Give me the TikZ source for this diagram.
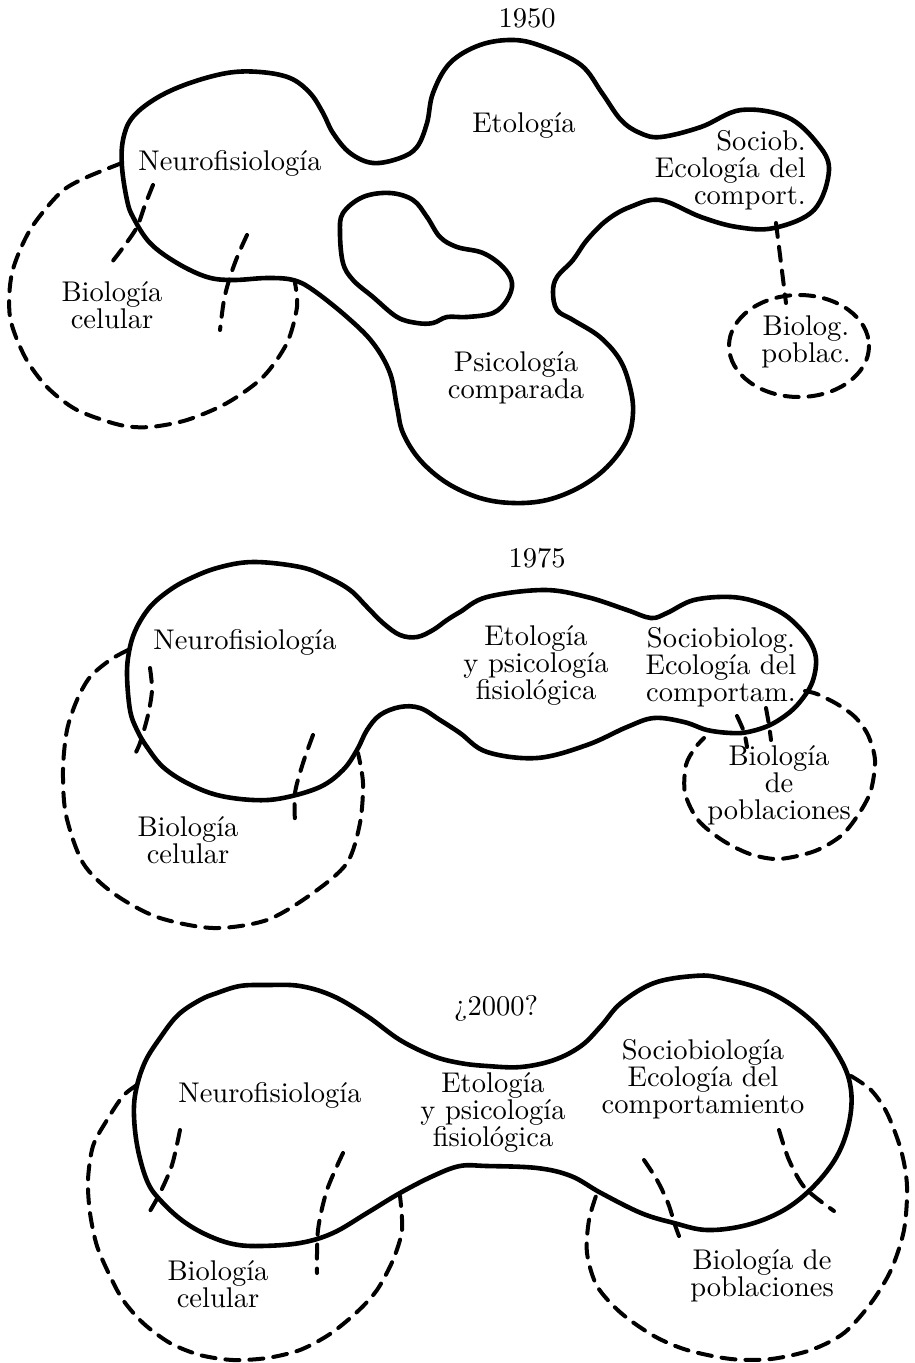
\documentclass[tikz,border=0pt]{standalone}
\usepackage{fontspec}
\setmainfont{lmroman10-regular.otf}
\begin{document}
\begin{tikzpicture}[
		x=1pt,y=-1pt,
		line cap=round,
		line join=round,
		outline/.style={line width=4.6pt},
		dashline/.style={line width=4pt,dash pattern=on 14pt off 10pt},
		lbl/.style={font=\fontsize{28.5}{27}\selectfont,align=center,inner sep=0pt}
		]
		\useasboundingbox (0,0) rectangle (914,1363);
		% 1950
		\node[lbl] (t50) at (527,18) {1950};
		\draw[outline] plot[smooth cycle,tension=0.6] coordinates {(122,167) (123,140) (132,118) (155,99) (187,84) (227,73) (260,72) (290,78) (310,93) (323,113) (333,133) (350,153) (373,163) (400,158) (417,147) (427,123) (433,93) (450,63) (480,45) (514,40) (544,47) (581,65) (602,93) (621,120) (640,133) (661,137) (701,127) (741,110) (787,117) (817,143) (829,170) (814,210) (774,228) (737,227) (701,217) (660,200) (630,207) (607,220) (587,240) (573,260) (557,277) (553,292) (557,310) (573,320) (600,337) (620,360) (630,387) (633,413) (627,440) (607,467) (580,487) (547,500) (513,503) (480,498) (447,483) (420,460) (403,433) (397,407) (390,373) (373,343) (347,317) (313,290) (293,280) (267,278) (233,280) (207,277) (177,263) (150,243) (133,217) (127,200)};
		\draw[outline] plot[smooth cycle,tension=0.6] coordinates {(340,233) (343,213) (363,197) (390,193) (413,200) (427,217) (440,237) (457,247) (483,253) (503,267) (512,283) (507,300) (493,313) (467,317) (447,317) (433,323) (417,323) (397,317) (373,297) (353,280) (343,263)};
		\draw[dashline] plot[smooth] coordinates {(122,163) (85,178) (60,193) (30,230) (12,273) (10,317) (25,357) (47,387) (77,410) (120,425) (150,427) (187,420) (227,403) (263,377) (287,343) (297,307) (295,283)};
		\draw[dashline] plot[smooth] coordinates {(153,185) (145,205) (137,227) (125,245) (112,262)};
		\draw[dashline] plot[smooth] coordinates {(247,235) (238,255) (230,277) (224,300) (220,330)};
		\draw[dashline] (799,346) ellipse [x radius=70,y radius=51];
		\coordinate (soc50b) at (776,223);
		\coordinate (pob50t) at (786,303);
		\draw[dashline] (soc50b) -- (pob50t);
		\node[lbl] (neuro50) at (230,163) {Neurofisiología};
		\node[lbl] (cel50) at (112,305) {Biología\\celular};
		\node[lbl] (eto50) at (524,125) {Etología};
		\node[lbl,align=right,anchor=east] (soc50) at (806,170) {Sociob.\\Ecología del\\comport.};
		\node[lbl] (psi50) at (516,378) {Psicología\\comparada};
		\node[lbl] (pob50) at (806,342) {Biolog.\\poblac.};
		% 1975
		\node[lbl] (t75) at (537,558) {1975};
		\draw[outline] plot[smooth cycle,tension=0.6] coordinates {(127,673) (130,647) (137,627) (150,607) (167,592) (187,580) (217,568) (253,562) (300,567) (327,577) (350,590) (367,607) (383,623) (400,635) (417,637) (433,630) (447,620) (460,612) (487,597) (544,590) (587,597) (627,610) (651,618) (667,613) (694,600) (731,597) (760,603) (785,615) (804,633) (814,650) (816,665) (812,683) (803,698) (790,712) (770,725) (748,732) (731,733) (707,730) (684,722) (654,718) (627,727) (587,745) (537,758) (487,752) (460,733) (440,720) (420,708) (400,707) (380,715) (367,730) (357,750) (343,770) (320,787) (283,798) (253,800) (217,795) (187,783) (163,767) (147,747) (137,730) (130,710)};
		\draw[dashline] plot[smooth] coordinates {(128,650) (110,660) (90,677) (77,700) (67,730) (63,770) (66,815) (83,863) (113,893) (157,917) (213,928) (267,920) (313,893) (347,863) (360,823) (363,783) (358,753)};
		\draw[dashline] plot[smooth] coordinates {(150,668) (152,690) (148,715) (140,743) (133,758)};
		\draw[dashline] plot[smooth] coordinates {(313,735) (303,763) (295,793) (295,822)};
		\draw[dashline] plot[smooth] coordinates {(805,691) (817,694) (837,704) (855,717) (868,735) (875,760) (871,790) (860,812) (842,835) (815,851) (779,859) (750,854) (722,840) (698,820) (685,793) (686,765) (695,748) (704,738)};
		\draw[dashline] plot[smooth] coordinates {(737,716) (744,732) (747,747)};
		\draw[dashline] plot[smooth] coordinates {(766,708) (769,725) (771,740)};
		\node[lbl] (neuro75) at (245,642) {Neurofisiología};
		\node[lbl] (cel75) at (188,840) {Biología\\celular};
		\node[lbl] (eto75) at (536,665) {Etología\\y psicología\\fisiológica};
		\node[lbl] (soc75) at (721,667) {Sociobiolog.\\Ecología del\\comportam.};
		\node[lbl] (pob75) at (779,785) {Biología\\de\\poblaciones};
		% 2000
		\node[lbl] (t00) at (496,1008) {¿2000?};
		\draw[outline] plot[smooth cycle,tension=0.6] coordinates {(134,1116) (136,1090) (145,1062) (160,1038) (178,1015) (200,1000) (217,993) (240,986) (267,985) (300,986) (333,996) (367,1016) (400,1040) (433,1056) (460,1063) (487,1066) (521,1067) (554,1060) (581,1046) (601,1026) (621,1003) (654,983) (694,976) (721,978) (771,993) (814,1023) (841,1060) (851,1090) (849,1123) (837,1156) (814,1186) (784,1210) (747,1225) (707,1230) (674,1223) (641,1213) (601,1193) (571,1176) (537,1168) (487,1166) (460,1166) (433,1176) (400,1193) (367,1213) (333,1233) (300,1243) (260,1246) (233,1244) (207,1235) (183,1221) (162,1202) (148,1183) (138,1150)};
		\draw[dashline] plot[smooth] coordinates {(137,1085) (123,1096) (107,1120) (93,1146) (88,1180) (90,1213) (97,1246) (110,1276) (123,1300) (143,1323) (170,1343) (200,1355) (233,1360) (267,1358) (300,1350) (330,1334) (357,1312) (377,1290) (393,1260) (402,1230) (400,1196)};
		\draw[dashline] plot[smooth] coordinates {(180,1130) (172,1165) (160,1193) (150,1211)};
		\draw[dashline] plot[smooth] coordinates {(343,1153) (327,1190) (318,1230) (317,1273)};
		\draw[dashline] plot[smooth] coordinates {(851,1076) (871,1090) (887,1113) (901,1150) (907,1186) (904,1230) (891,1270) (871,1303) (844,1333) (811,1350) (771,1359) (731,1359) (687,1350) (654,1336) (621,1313) (597,1286) (587,1253) (589,1220) (597,1193)};
		\draw[dashline] plot[smooth] coordinates {(644,1160) (657,1180) (668,1203) (675,1225) (679,1236)};
		\draw[dashline] plot[smooth] coordinates {(779,1130) (789,1160) (805,1188) (834,1211)};
		\node[lbl] (neuro00) at (270,1095) {Neurofisiología};
		\node[lbl] (cel00) at (218,1284) {Biología\\celular};
		\node[lbl] (eto00) at (493,1112) {Etología\\y psicología\\fisiológica};
		\node[lbl] (soc00) at (703,1079) {Sociobiología\\Ecología del\\comportamiento};
		\node[lbl] (pob00) at (762,1276) {Biología de\\poblaciones};
		\end{tikzpicture}
\end{document}
